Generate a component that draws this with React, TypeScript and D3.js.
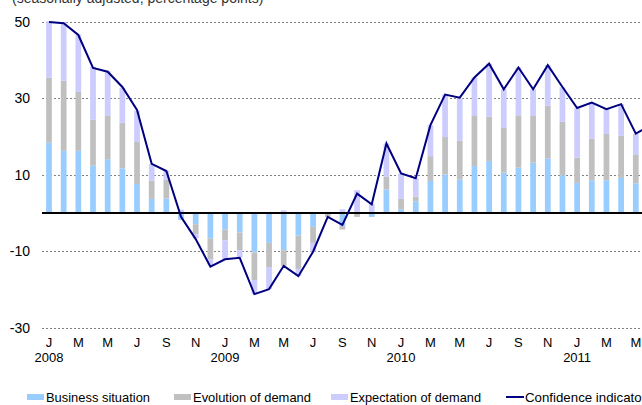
import React, { useRef, useEffect } from "react";
import * as d3 from "d3";

// months Jan 2008 .. Jun 2011 (last one falls off the right edge)
const months: string[] = [
  "2008-01", "2008-02", "2008-03", "2008-04", "2008-05", "2008-06", "2008-07", "2008-08", "2008-09", "2008-10", "2008-11", "2008-12",
  "2009-01", "2009-02", "2009-03", "2009-04", "2009-05", "2009-06", "2009-07", "2009-08", "2009-09", "2009-10", "2009-11", "2009-12",
  "2010-01", "2010-02", "2010-03", "2010-04", "2010-05", "2010-06", "2010-07", "2010-08", "2010-09", "2010-10", "2010-11", "2010-12",
  "2011-01", "2011-02", "2011-03", "2011-04", "2011-05", "2011-06",
];

const businessSituation: number[] = [
  18.4, 16.3, 16.3, 12.4, 14.1, 11.7, 7.6, 3.7, 3.8, -1.8, -2.9, -6.6,
  -4.3, -5.1, -10.3, -7.8, -9.7, -5.9, -3.6, 0, -3.4, 0, -1.0, 6.2,
  1.0, 3.1, 8.4, 10.1, 8.8, 12.3, 13.6, 10.6, 11.9, 13.2, 14.3, 9.9,
  7.9, 8.6, 8.6, 9.2, 7.8, 8.0,
];

const evolutionOfDemand: number[] = [
  17.0, 18.3, 15.4, 12.0, 11.3, 11.9, 11.0, 4.8, 4.9, 0, -2.6, -5.5,
  -2.8, -4.6, -7.2, -6.3, -4.1, -8.7, -4.2, -1.0, -0.9, -1.0, 0, 3.3,
  2.7, 1.2, 6.5, 9.8, 10.1, 13.1, 11.6, 11.7, 13.7, 12.2, 13.8, 14.0,
  6.6, 10.8, 12.1, 11.0, 7.4, 7.0,
];

const expectationOfDemand: number[] = [
  14.8, 15.4, 15.0, 13.9, 11.8, 9.2, 8.2, 4.3, 2.4, 0.9, -1.1, -1.5,
  -5.0, -1.9, -3.7, -5.8, 0.7, -1.9, -2.3, 0, 1.0, 6.0, 2.5, 8.7,
  6.7, 4.8, 8.1, 11.1, 11.1, 10.1, 13.9, 10.1, 12.5, 7.0, 10.6, 9.0,
  12.9, 9.4, 6.5, 8.3, 5.5, 8.0,
];

const confidenceIndicator: number[] = [
  50.0, 49.7, 46.6, 38.0, 37.0, 33.0, 27.0, 12.9, 11.0, -1.0, -6.8, -14.0,
  -12.1, -11.7, -21.2, -19.9, -13.8, -16.5, -10.1, -1.0, -3.1, 5.1, 2.3, 18.2,
  10.4, 9.1, 23.0, 31.0, 30.2, 35.5, 39.1, 32.4, 38.1, 32.4, 38.7, 33.0,
  27.5, 28.9, 27.2, 28.5, 20.8, 23.0,
];

const yTicks: number[] = [50, 30, 10, -10, -30];
const monthLetters: string[] = ["J", "F", "M", "A", "M", "J", "J", "A", "S", "O", "N", "D"];

const seriesNames = ["Business situation", "Evolution of demand", "Expectation of demand"];
const seriesKeys = ["business", "evolution", "expectation"];
const colors = ["#99ccff", "#c0c0c0", "#ccccff"];
const lineColor = "#000080";

const W = 642;
const H = 405;

const Chart = () => {
  const svgRef = useRef<SVGSVGElement>(null);

  useEffect(() => {
    const svg = d3.select(svgRef.current);
    svg.selectAll("*").remove();

    const font = "Liberation Sans, Arial, sans-serif";
    const step = 14.67;
    const x0 = 49;

    const x = d3
      .scalePoint<string>()
      .domain(months)
      .range([x0, x0 + step * (months.length - 1)]);
    const barW = step * 0.39;

    const y = d3.scaleLinear().domain([-30, 50]).range([327.75, 22]);

    const rows = months.map((m, i) => ({
      month: m,
      business: businessSituation[i],
      evolution: evolutionOfDemand[i],
      expectation: expectationOfDemand[i],
    }));

    const stack = d3.stack<any>().keys(seriesKeys).offset(d3.stackOffsetDiverging);
    const stacked = stack(rows);

    // subtitle, mostly cut off at the top like in the source
    svg
      .append("text")
      .attr("x", 12)
      .attr("y", 3)
      .attr("fill", "#333")
      .style("font-family", font)
      .style("font-size", "14px")
      .text("(seasonally adjusted, percentage points)");

    // grid
    svg
      .append("g")
      .selectAll("line")
      .data(yTicks)
      .join("line")
      .attr("x1", 42)
      .attr("x2", W)
      .attr("y1", (d) => Math.round(y(d)) + 0.5)
      .attr("y2", (d) => Math.round(y(d)) + 0.5)
      .attr("stroke", "#808080")
      .attr("stroke-width", 1)
      .attr("stroke-dasharray", "2,2");

    svg
      .append("g")
      .selectAll("text")
      .data(yTicks)
      .join("text")
      .attr("x", 30)
      .attr("y", (d) => y(d) + 5)
      .attr("text-anchor", "end")
      .attr("fill", "#000")
      .style("font-family", font)
      .style("font-size", "14px")
      .text((d) => d);

    // bars
    svg
      .append("g")
      .selectAll("g")
      .data(stacked)
      .join("g")
      .attr("fill", (d, i) => colors[i])
      .selectAll("rect")
      .data((d) => d)
      .join("rect")
      .attr("x", (d: any) => (x(d.data.month) as number) - barW / 2)
      .attr("width", barW)
      .attr("y", (d) => y(Math.max(d[0], d[1])))
      .attr("height", (d) => Math.abs(y(d[0]) - y(d[1])));

    // zero line
    svg
      .append("line")
      .attr("x1", 42)
      .attr("x2", W)
      .attr("y1", y(0))
      .attr("y2", y(0))
      .attr("stroke", "#000")
      .attr("stroke-width", 2);

    // confidence indicator
    const line = d3
      .line<number>()
      .x((d, i) => x(months[i]) as number)
      .y((d) => y(d));
    svg
      .append("path")
      .datum(confidenceIndicator)
      .attr("d", line)
      .attr("fill", "none")
      .attr("stroke", lineColor)
      .attr("stroke-width", 2);

    // x labels every two months
    const labelMonths = months.filter((m, i) => i % 2 === 0);
    svg
      .append("g")
      .selectAll("text")
      .data(labelMonths)
      .join("text")
      .attr("x", (d) => x(d) as number)
      .attr("y", 347)
      .attr("text-anchor", "middle")
      .attr("fill", "#000")
      .style("font-family", font)
      .style("font-size", "13px")
      .text((d) => monthLetters[+d.slice(5) - 1]);

    svg
      .append("g")
      .selectAll("text")
      .data(months.filter((m) => m.endsWith("-01")))
      .join("text")
      .attr("x", (d) => x(d) as number)
      .attr("y", 362)
      .attr("text-anchor", "middle")
      .attr("fill", "#000")
      .style("font-family", font)
      .style("font-size", "13px")
      .text((d) => d.slice(0, 4));

    // legend
    const legendX = [27, 174, 331];
    const legendW = [104, 118, 131];
    const legend = svg.append("g");
    seriesNames.forEach((name, i) => {
      legend
        .append("rect")
        .attr("x", legendX[i])
        .attr("y", 394)
        .attr("width", 17)
        .attr("height", 6)
        .attr("fill", colors[i]);
      legend
        .append("text")
        .attr("x", legendX[i] + 19)
        .attr("y", 402)
        .attr("fill", "#000")
        .attr("textLength", legendW[i])
        .attr("lengthAdjust", "spacingAndGlyphs")
        .style("font-family", font)
        .style("font-size", "13.5px")
        .text(name);
    });
    legend
      .append("line")
      .attr("x1", 506)
      .attr("x2", 524)
      .attr("y1", 397)
      .attr("y2", 397)
      .attr("stroke", lineColor)
      .attr("stroke-width", 2);
    legend
      .append("text")
      .attr("x", 525)
      .attr("y", 402)
      .attr("fill", "#000")
      .attr("textLength", 121)
      .attr("lengthAdjust", "spacingAndGlyphs")
      .style("font-family", font)
      .style("font-size", "13.5px")
      .text("Confidence indicator");
  }, []);

  return (
    <svg
      ref={svgRef}
      width={W}
      height={H}
      style={{ position: "absolute", left: 0, top: 0, display: "block", background: "#fff" }}
    />
  );
};

export default function App() {
  return <Chart />;
}
